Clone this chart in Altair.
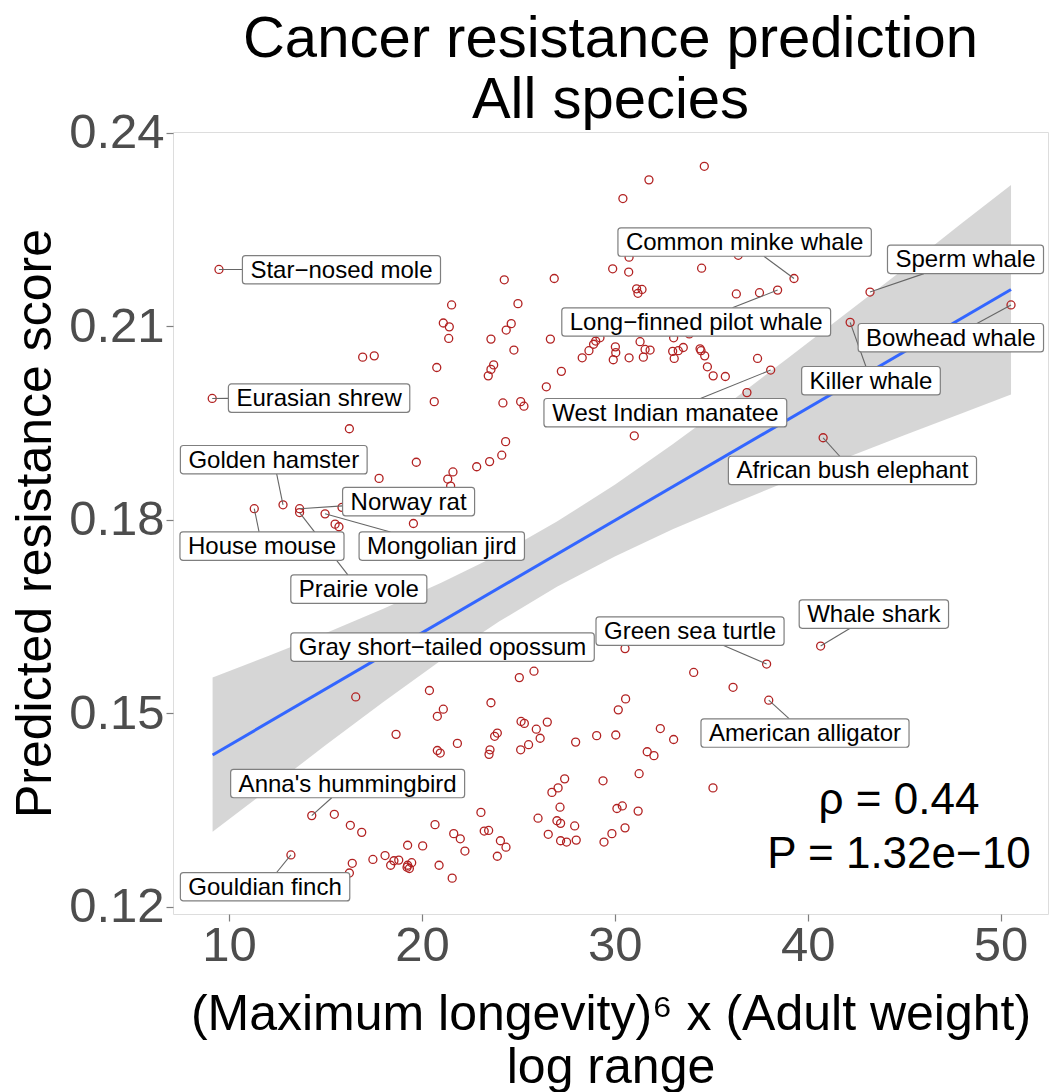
import altair as alt
import pandas as pd

# ---------------- data ----------------
# unlabelled species (x = log range of longevity^6 x weight, y = predicted score)
pt_x = [21.54, 21.11, 21.42, 21.39, 16.93, 17.53, 20.77,
        34.64, 31.77, 30.42, 30.74, 29.89, 30.72, 34.50, 36.40,
        31.13, 31.41, 31.20, 36.30, 37.50, 24.27, 26.86, 24.98,
        24.63, 24.37, 23.58, 24.77, 26.66, 23.72, 23.58, 23.44,
        27.23, 26.45, 28.31, 28.66, 28.90, 29.01, 29.23, 30.03,
        30.05, 29.92, 30.74, 31.31, 31.57, 31.83, 31.48, 33.05,
        33.86, 33.00, 33.29, 33.55, 33.08, 34.42, 34.47, 34.66,
        34.80, 35.10, 35.73, 37.40, 36.85,
        20.64, 16.24, 19.71, 21.61, 21.34, 21.49, 17.78, 15.86,
        19.56, 15.50, 15.70, 24.20, 25.12, 25.29, 31.01, 24.34,
        24.14, 23.51, 22.84,
        16.57, 20.39, 21.11, 20.80, 18.66, 21.84, 20.80, 20.95,
        15.46, 16.29, 16.88, 20.68, 21.65, 21.99, 22.23, 19.26,
        20.04, 16.39, 16.24, 17.46, 18.09, 18.55, 18.80, 18.38,
        19.26, 19.47, 19.35, 19.23, 20.89, 21.57,
        30.53, 34.09, 36.13, 25.81, 25.05, 23.58, 30.56, 30.18,
        25.14, 25.31, 26.50, 25.93, 23.91, 23.77, 26.13, 25.53,
        25.12, 23.53, 23.48, 27.97, 29.06, 30.05, 32.36, 33.05,
        31.68, 32.03, 31.26, 29.39, 35.09, 27.40, 27.06, 26.74,
        27.16, 30.11, 30.39, 31.21, 23.06, 26.02, 27.00, 27.19,
        27.92, 23.23, 23.46, 26.55, 30.53, 29.85, 29.44, 27.19,
        27.50, 28.00, 24.07, 24.36, 23.91]
pt_y = [0.2133, 0.2105, 0.2099, 0.2081, 0.2052, 0.2054, 0.2036,
        0.2348, 0.2327, 0.2298, 0.2207, 0.2189, 0.2184, 0.2190, 0.2210,
        0.2158, 0.2157, 0.2151, 0.2150, 0.2152, 0.2172, 0.2174, 0.2135,
        0.2104, 0.2094, 0.2080, 0.2063, 0.2080, 0.2040, 0.2033, 0.2023,
        0.2030, 0.2006, 0.2051, 0.2062, 0.2072, 0.2077, 0.2082, 0.2068,
        0.2059, 0.2048, 0.2051, 0.2076, 0.2064, 0.2063, 0.2052, 0.2082,
        0.2088, 0.2061, 0.2062, 0.2067, 0.2050, 0.2065, 0.2062, 0.2054,
        0.2037, 0.2023, 0.2022, 0.2050, 0.1997,
        0.1983, 0.1941, 0.1889, 0.1874, 0.1863, 0.1852, 0.1864, 0.1819,
        0.1794, 0.1793, 0.1789, 0.1981, 0.1983, 0.1976, 0.1930, 0.1921,
        0.1900, 0.1890, 0.1882,
        0.1525, 0.1535, 0.1506, 0.1495, 0.1467, 0.1453, 0.1442, 0.1438,
        0.1343, 0.1326, 0.1315, 0.1327, 0.1313, 0.1305, 0.1286, 0.1295,
        0.1294, 0.1267, 0.1252, 0.1273, 0.1279, 0.1271, 0.1272, 0.1264,
        0.1264, 0.1268, 0.1259, 0.1261, 0.1264, 0.1244,
        0.1600, 0.1563, 0.1540, 0.1565, 0.1555, 0.1516, 0.1522, 0.1505,
        0.1487, 0.1484, 0.1486, 0.1475, 0.1469, 0.1464, 0.1461, 0.1451,
        0.1443, 0.1443, 0.1436, 0.1455, 0.1465, 0.1466, 0.1476, 0.1459,
        0.1440, 0.1434, 0.1406, 0.1395, 0.1384, 0.1398, 0.1384, 0.1377,
        0.1354, 0.1352, 0.1356, 0.1348, 0.1346, 0.1337, 0.1333, 0.1329,
        0.1325, 0.1317, 0.1318, 0.1312, 0.1322, 0.1313, 0.1300, 0.1302,
        0.1300, 0.1303, 0.1302, 0.1292, 0.1278]

# labelled species: name, point position, label position
lab_name = ["Star\u2212nosed mole", "Eurasian shrew", "Golden hamster", "Norway rat",
            "House mouse", "Mongolian jird", "Prairie vole", "Gray short\u2212tailed opossum",
            "Green sea turtle", "Whale shark", "American alligator", "Anna's hummingbird",
            "Gouldian finch", "Common minke whale", "Long\u2212finned pilot whale", "Sperm whale",
            "Bowhead whale", "Killer whale", "West Indian manatee", "African bush elephant"]
lab_px = [9.48, 9.13, 12.80, 13.66, 11.31, 14.98, 13.66, 24.00, 37.87, 40.67,
          37.98, 14.29, 13.21, 39.29, 38.44, 43.23, 50.54, 42.20, 38.08, 40.80]
lab_py = [0.2188, 0.1988, 0.1823, 0.1817, 0.1817, 0.1809, 0.1811, 0.1605, 0.1576, 0.1604,
          0.1520, 0.1341, 0.1280, 0.2174, 0.2156, 0.2153, 0.2133, 0.2106, 0.2032, 0.1927]
lab_x = [15.83, 14.67, 12.32, 19.31, 11.71, 21.03, 16.73, 21.07, 33.90, 43.43,
         39.86, 16.15, 11.87, 36.73, 34.22, 48.18, 47.42, 43.28, 32.62, 42.32]
lab_y = [0.21876, 0.19884, 0.18930, 0.18279, 0.17589, 0.17589, 0.16922, 0.16023, 0.16271, 0.16535,
         0.14690, 0.13907, 0.12307, 0.22305, 0.21065, 0.22036, 0.20822, 0.20155, 0.19659, 0.18763]

# linear fit and its 95% band
fit_x = [9.15, 50.54]
fit_y = [0.1435, 0.2157]
band_x = [9.15, 12, 15, 18, 21, 24, 27, 30, 33, 36, 39, 42, 45, 48, 50.54]
band_lo = [0.1316, 0.1381, 0.1450, 0.1517, 0.1582, 0.1642, 0.1696, 0.1743,
           0.1785, 0.1823, 0.1860, 0.1896, 0.1931, 0.1965, 0.1994]
band_hi = [0.1555, 0.1588, 0.1624, 0.1662, 0.1702, 0.1746, 0.1797, 0.1854,
           0.1917, 0.1983, 0.2051, 0.2120, 0.2189, 0.2260, 0.2319]

annot_text = ["\u03c1 = 0.44", "P = 1.32e\u221210"]
annot_x = [44.73, 44.73]
annot_y = [0.13434, 0.1260]

x_ticks = [10, 20, 30, 40, 50]
y_ticks = [0.12, 0.15, 0.18, 0.21, 0.24]

title_lines = ["Cancer resistance prediction", "All species"]
x_title = ["(Maximum longevity)\u2076 x (Adult weight)", "log range"]
y_title = "Predicted resistance score"

# ---------------- layout ----------------
W, H = 875, 782
XD = [7.097, 52.457]
YD = [0.11884, 0.24012]
PXX = W / (XD[1] - XD[0])
PXY = H / (YD[1] - YD[0])
FONT = "Liberation Sans"
LAB_FS = 24

AW = {' ': 278, "'": 191, '\u2212': 584, '-': 333}
AW.update(dict(zip("abcdefghijklmnopqrstuvwxyz",
                   [556, 556, 500, 556, 556, 278, 556, 556, 222, 222, 500, 222, 833,
                    556, 556, 556, 556, 333, 500, 278, 556, 500, 722, 500, 500, 500])))
AW.update(dict(zip("ABCDEFGHIJKLMNOPQRSTUVWXYZ",
                   [667, 667, 722, 722, 667, 611, 778, 722, 278, 500, 667, 556, 833,
                    722, 778, 667, 778, 722, 667, 611, 722, 667, 944, 667, 667, 611])))


def text_px(s, size):
    return sum(AW.get(c, 556) for c in s) * size / 1000.0


rows = []
segs = []
for n, px, py, lx, ly in zip(lab_name, lab_px, lab_py, lab_x, lab_y):
    hw = (text_px(n, LAB_FS) + 16) / 2.0
    hh = 14.2
    rows.append(dict(name=n, x1=lx - hw / PXX, x2=lx + hw / PXX,
                     y1=ly - hh / PXY, y2=ly + hh / PXY, lx=lx, ly=ly))
    vx = (px - lx) * PXX
    vy = (py - ly) * PXY
    sx = hw / abs(vx) if vx != 0 else 1e9
    sy = hh / abs(vy) if vy != 0 else 1e9
    s = min(sx, sy)
    if s < 1:
        ex = lx + s * (px - lx)
        ey = ly + s * (py - ly)
        segs.append(dict(sx=px, sy=py, ex=ex, ey=ey))

labels_df = pd.DataFrame(rows)
segs_df = pd.DataFrame(segs)
points_df = pd.DataFrame({"x": pt_x + lab_px, "y": pt_y + lab_py})
band_df = pd.DataFrame({"x": band_x, "lo": band_lo, "hi": band_hi})
fit_df = pd.DataFrame({"x": fit_x, "y": fit_y})
annot_df = pd.DataFrame({"x": annot_x, "y": annot_y, "t": annot_text})

xs = alt.Scale(domain=XD, nice=False, zero=False)
ys = alt.Scale(domain=YD, nice=False, zero=False)

x_axis = alt.Axis(values=x_ticks, title=x_title, grid=False, domain=False,
                  labelFontSize=49, labelColor="#4D4D4D", labelFont=FONT,
                  labelPadding=39, labelBaseline="alphabetic", labelFlush=False,
                  labelOverlap=False, tickColor="#7F7F7F", tickSize=7, tickWidth=1.2,
                  titleFont=FONT, titleFontSize=50, titleFontWeight="normal",
                  titleColor="black", titleX=437.5, titleY=115, titleAlign="center",
                  titleBaseline="alphabetic", titleLineHeight=53)
y_axis = alt.Axis(values=y_ticks, format=".2f", title=y_title, grid=False, domain=False,
                  labelFontSize=49, labelColor="#4D4D4D", labelFont=FONT,
                  labelPadding=2, labelBaseline="middle", labelFlush=False,
                  labelOverlap=False, tickColor="#7F7F7F", tickSize=7, tickWidth=1.2,
                  titleFont=FONT, titleFontSize=50, titleFontWeight="normal",
                  titleColor="black", titleX=-123, titleY=391, titleAngle=270,
                  titleAlign="center", titleBaseline="alphabetic")


def X(field):
    return alt.X(field, scale=xs, axis=x_axis)


def Y(field):
    return alt.Y(field, scale=ys, axis=y_axis)


band = alt.Chart(band_df).mark_area(color="#999999", opacity=0.4).encode(
    x=X("x:Q"), y=Y("lo:Q"), y2="hi:Q")

fit = alt.Chart(fit_df).mark_line(color="#3366FF", strokeWidth=3).encode(
    x=X("x:Q"), y=Y("y:Q"))

points = alt.Chart(points_df).mark_point(
    shape="circle", filled=False, size=64, strokeWidth=1.3, color="#B22222", opacity=1
).encode(x=X("x:Q"), y=Y("y:Q"))

seg = alt.Chart(segs_df).mark_rule(color="#666666", strokeWidth=1.1).encode(
    x=X("sx:Q"), y=Y("sy:Q"), x2="ex:Q", y2="ey:Q")

boxes = alt.Chart(labels_df).mark_rect(
    fill="white", stroke="#7F7F7F", strokeWidth=1.2, cornerRadius=3
).encode(x=X("x1:Q"), x2="x2:Q", y=Y("y1:Q"), y2="y2:Q")

texts = alt.Chart(labels_df).mark_text(
    font=FONT, fontSize=LAB_FS, color="black", align="center", baseline="middle", dy=1
).encode(x=X("lx:Q"), y=Y("ly:Q"), text="name:N")

annot = alt.Chart(annot_df).mark_text(
    font=FONT, fontSize=44, color="black", align="center", baseline="alphabetic"
).encode(x=X("x:Q"), y=Y("y:Q"), text="t:N")

t1 = alt.Chart(pd.DataFrame({"t": [title_lines[0]]})).mark_text(
    font=FONT, fontSize=58, color="black", align="center", baseline="alphabetic"
).encode(x=alt.value(437.5), y=alt.value(-75), text="t:N")
t2 = alt.Chart(pd.DataFrame({"t": [title_lines[1]]})).mark_text(
    font=FONT, fontSize=58, color="black", align="center", baseline="alphabetic"
).encode(x=alt.value(437.5), y=alt.value(-14), text="t:N")

chart = alt.layer(band, fit, points, seg, boxes, texts, annot, t1, t2).properties(
    width=W, height=H,
    autosize=alt.AutoSizeParams(type="none"),
    padding={"left": 173, "top": 132, "right": 2, "bottom": 178},
    background="white",
).configure_view(stroke="#666666", strokeWidth=1.5).configure(font=FONT)

chart.save("out.html", embed_options={"renderer": "svg", "actions": False})
